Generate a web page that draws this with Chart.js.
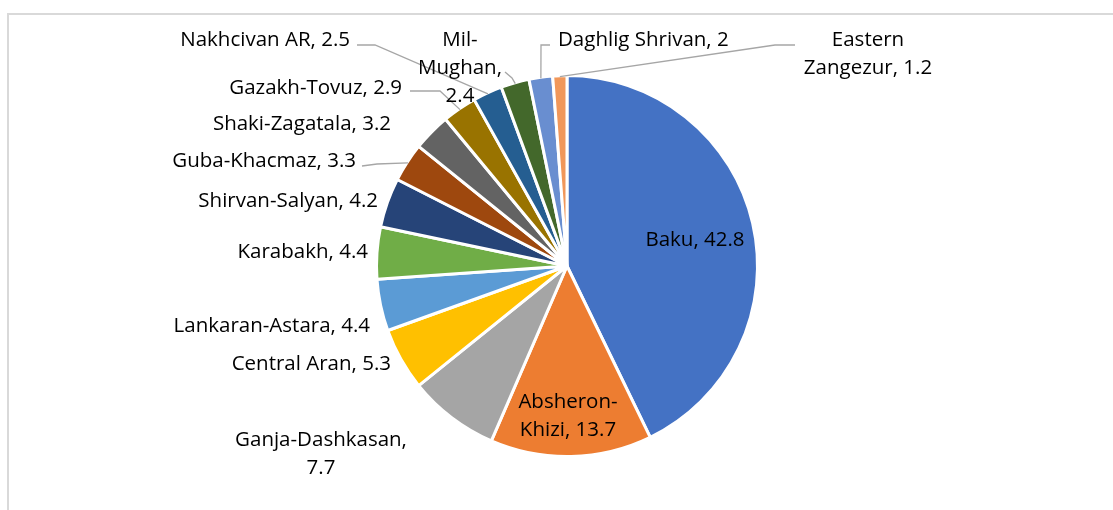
<!DOCTYPE html>
<html>
<head>
<meta charset="utf-8">
<script src="https://cdn.jsdelivr.net/npm/chart.js@4.4.0/dist/chart.umd.min.js"></script>
<style>
  html, body { margin: 0; padding: 0; background: #fff; overflow: hidden; }
  #frame { position: absolute; left: 7px; top: 13px; width: 1200px; height: 600px;
           border-left: 2px solid #d9d9d9; border-top: 2px solid #d9d9d9; }
  #wrap { position: absolute; left: 0; top: 0; width: 1113px; height: 510px; }
</style>
</head>
<body>
<div id="frame"></div>
<div id="wrap"><canvas id="pie"></canvas></div>
<script>
// Regiones y porcentajes
var regiones = ['Baku', 'Absheron-Khizi', 'Ganja-Dashkasan', 'Central Aran', 'Lankaran-Astara',
    'Karabakh', 'Shirvan-Salyan', 'Guba-Khacmaz', 'Shaki-Zagatala', 'Gazakh-Tovuz',
    'Nakhcivan AR', 'Mil-Mughan', 'Daghlig Shrivan', 'Eastern Zangezur'];
var valores = [42.8, 13.7, 7.7, 5.3, 4.4, 4.4, 4.2, 3.3, 3.2, 2.9, 2.5, 2.4, 2, 1.2];
var colores = ['#4472C4', '#ED7D31', '#A5A5A5', '#FFC000', '#5B9BD5', '#70AD47', '#264478',
    '#9E480E', '#636363', '#997300', '#255E91', '#43682B', '#698ED0', '#F1975A'];

// Texto de cada etiqueta (líneas)
var textos = [
    ['Baku, 42.8'],
    ['Absheron-', 'Khizi, 13.7'],
    ['Ganja-Dashkasan,', '7.7'],
    ['Central Aran, 5.3'],
    ['Lankaran-Astara, 4.4'],
    ['Karabakh, 4.4'],
    ['Shirvan-Salyan, 4.2'],
    ['Guba-Khacmaz, 3.3'],
    ['Shaki-Zagatala, 3.2'],
    ['Gazakh-Tovuz, 2.9'],
    ['Nakhcivan AR, 2.5'],
    ['Mil-', 'Mughan,', '2.4'],
    ['Daghlig Shrivan, 2'],
    ['Eastern', 'Zangezur, 1.2']
];

// Posición de etiquetas respecto al centro del pastel: [dx, dy, alineación]
var posEtiquetas = [
    [128, -26, 'center'],
    [1, 150, 'center'],
    [-246, 188, 'center'],
    [-176, 98, 'right'],
    [-197, 60, 'right'],
    [-199, -14, 'right'],
    [-189, -65, 'right'],
    [-211, -105, 'right'],
    [-176, -142, 'right'],
    [-165, -178, 'right'],
    [-217, -226, 'right'],
    [-107, -198, 'center'],
    [-9, -226, 'left'],
    [301, -212, 'center']
];

// Líneas guía: punto de inicio (relativo al centro) y codo
var guias = {
    7: [[-205, -100], [-190, -102]],
    9: [[-157, -175], [-127, -175]],
    10: [[-210, -221], [-192, -221]],
    11: [[-62, -194], [-55, -188]],
    12: [[-17, -221], [-26, -221]],
    13: [[228, -221], [208, -221]]
};

var etiquetasPlugin = {
    id: 'etiquetas',
    afterDatasetsDraw: function(chart) {
        var ctx = chart.ctx;
        var arcos = chart.getDatasetMeta(0).data;
        var cx = arcos[0].x, cy = arcos[0].y;
        ctx.save();
        ctx.font = '20.5px "Open Sans", sans-serif';
        ctx.fillStyle = '#000';
        ctx.textBaseline = 'middle';
        // líneas guía hasta el borde del sector
        ctx.strokeStyle = '#a6a6a6';
        ctx.lineWidth = 1.3;
        Object.keys(guias).forEach(function(k) {
            var a = arcos[k];
            var mid = (a.startAngle + a.endAngle) / 2;
            var r = a.outerRadius - 1;
            var g = guias[k];
            ctx.beginPath();
            ctx.moveTo(cx + g[0][0], cy + g[0][1]);
            ctx.lineTo(cx + g[1][0], cy + g[1][1]);
            ctx.lineTo(cx + Math.cos(mid) * r, cy + Math.sin(mid) * r);
            ctx.stroke();
        });
        for (var i = 0; i < textos.length; i++) {
            var p = posEtiquetas[i];
            ctx.textAlign = p[2];
            var lineas = textos[i];
            var y0 = cy + p[1] - (lineas.length - 1) * 14;
            for (var j = 0; j < lineas.length; j++) {
                ctx.fillText(lineas[j], cx + p[0], y0 + j * 28);
            }
        }
        ctx.restore();
    }
};

new Chart(document.getElementById('pie'), {
    type: 'pie',
    data: {
        labels: regiones,
        datasets: [{
            data: valores,
            backgroundColor: colores,
            borderColor: '#ffffff',
            borderWidth: 3
        }]
    },
    options: {
        responsive: true,
        maintainAspectRatio: false,
        animation: false,
        layout: { padding: { left: 375, right: 354, top: 74, bottom: 52 } },
        plugins: {
            legend: { display: false },
            tooltip: { enabled: false }
        }
    },
    plugins: [etiquetasPlugin]
});
</script>
</body>
</html>
